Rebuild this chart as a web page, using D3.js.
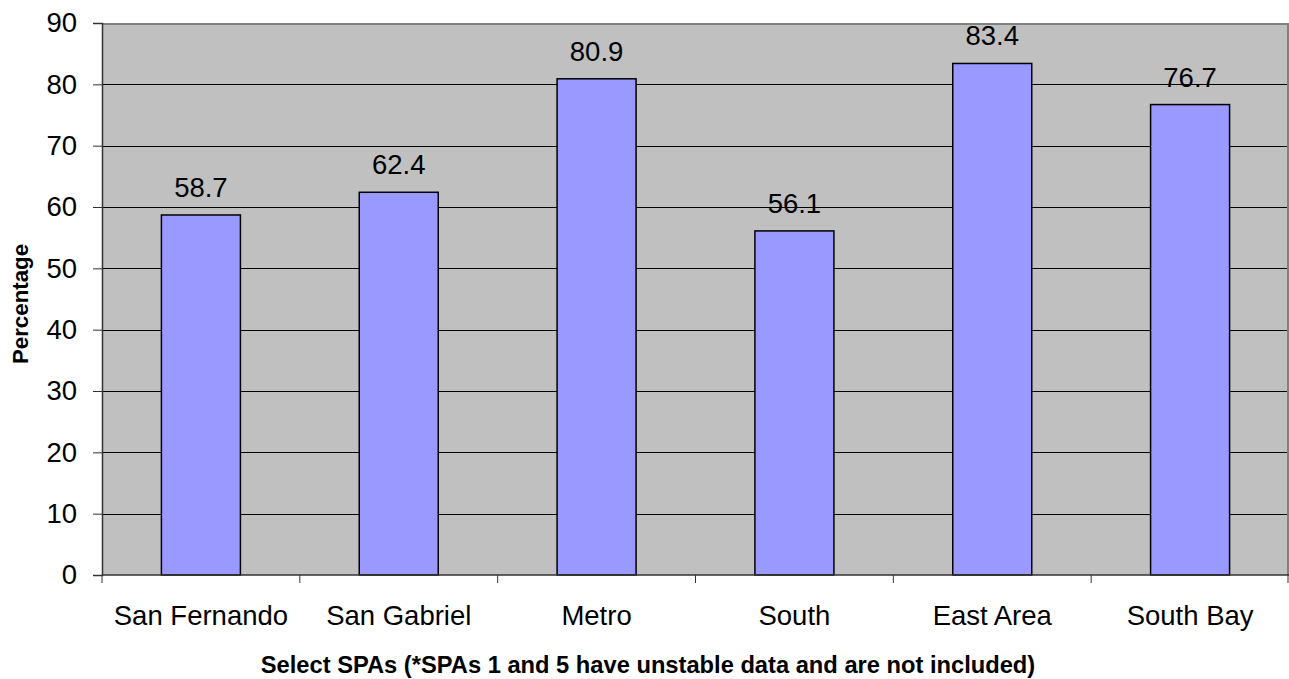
<!DOCTYPE html>
<html>
<head>
<meta charset="utf-8">
<script src="https://cdn.jsdelivr.net/npm/d3@7"></script>
<style>
  html, body { margin: 0; padding: 0; background: #ffffff; }
  svg { display: block; font-family: "Liberation Sans", Arial, sans-serif; }
</style>
</head>
<body>
<svg id="chart" width="1289" height="679"></svg>
<script>
// Service Planning Areas and their percentages
const categories = ["San Fernando", "San Gabriel", "Metro", "South", "East Area", "South Bay"];
const values = [58.7, 62.4, 80.9, 56.1, 83.4, 76.7];
const yTicks = [0, 10, 20, 30, 40, 50, 60, 70, 80, 90];
const xTitle = "Select SPAs (*SPAs 1 and 5 have unstable data and are not included)";
const yTitle = "Percentage";

const svg = d3.select("#chart");
const plot = { left: 102, right: 1289, top: 23, bottom: 575 };
const labelSize = 27.5;

const x = d3.scaleBand()
  .domain(categories)
  .range([plot.left, plot.right])
  .paddingInner(0)
  .paddingOuter(0);

const y = d3.scaleLinear()
  .domain([0, 90])
  .range([plot.bottom, plot.top]);

// plot background
svg.append("rect")
  .attr("x", plot.left).attr("y", plot.top)
  .attr("width", plot.right - plot.left).attr("height", plot.bottom - plot.top)
  .attr("fill", "#c0c0c0");

// horizontal gridlines
svg.append("g")
  .selectAll("line")
  .data(yTicks.filter(t => t > 0 && t < 90))
  .join("line")
  .attr("x1", plot.left).attr("x2", plot.right)
  .attr("y1", d => Math.round(y(d)) + 0.5).attr("y2", d => Math.round(y(d)) + 0.5)
  .attr("stroke", "#000").attr("stroke-width", 1);

// plot border (top and right)
svg.append("path")
  .attr("d", `M${plot.left},${plot.top + 1}H${plot.right - 1}V${plot.bottom}`)
  .attr("fill", "none").attr("stroke", "#808080").attr("stroke-width", 2);

// bars
const barW = 79;
svg.append("g")
  .selectAll("rect")
  .data(values)
  .join("rect")
  .attr("x", (d, i) => x(categories[i]) + x.bandwidth() / 2 - barW / 2)
  .attr("y", d => y(d))
  .attr("width", barW)
  .attr("height", d => y(0) - y(d))
  .attr("fill", "#9999ff")
  .attr("stroke", "#000")
  .attr("stroke-width", 1.5);

// value labels
svg.append("g")
  .selectAll("text")
  .data(values)
  .join("text")
  .attr("x", (d, i) => x(categories[i]) + x.bandwidth() / 2)
  .attr("y", d => y(d) - 18)
  .attr("text-anchor", "middle")
  .attr("font-size", labelSize)
  .attr("fill", "#000")
  .text(d => d.toFixed(1));

// y axis
const yAxis = d3.axisLeft(y).tickValues(yTicks).tickSize(9).tickPadding(16).tickFormat(d3.format("d"));
const gy = svg.append("g")
  .attr("transform", `translate(${plot.left},0)`)
  .call(yAxis);
gy.select(".domain").attr("stroke", "#333").attr("stroke-width", 1.5);
gy.selectAll(".tick line").attr("stroke", "#333");
gy.selectAll(".tick text")
  .attr("font-size", labelSize)
  .attr("font-family", "Liberation Sans, Arial, sans-serif")
  .attr("fill", "#000");

// x axis with ticks at band boundaries
const gx = svg.append("g")
  .attr("transform", `translate(0,${plot.bottom})`);
gx.append("line")
  .attr("x1", plot.left).attr("x2", plot.right)
  .attr("y1", 0).attr("y2", 0)
  .attr("stroke", "#333").attr("stroke-width", 1.5);
const bounds = categories.map(c => x(c)).concat([plot.right - 1]);
gx.selectAll("line.tick")
  .data(bounds)
  .join("line")
  .attr("class", "tick")
  .attr("x1", d => d).attr("x2", d => d)
  .attr("y1", 0).attr("y2", 8)
  .attr("stroke", "#333");
gx.selectAll("text")
  .data(categories)
  .join("text")
  .attr("x", d => x(d) + x.bandwidth() / 2)
  .attr("y", 50)
  .attr("text-anchor", "middle")
  .attr("font-size", labelSize)
  .attr("fill", "#000")
  .text(d => d);

// axis titles
svg.append("text")
  .attr("x", 648).attr("y", 673)
  .attr("text-anchor", "middle")
  .attr("font-size", 23.7)
  .attr("font-weight", "bold")
  .attr("fill", "#000")
  .text(xTitle);

svg.append("text")
  .attr("transform", `translate(28,304) rotate(-90)`)
  .attr("text-anchor", "middle")
  .attr("font-size", 22.3)
  .attr("font-weight", "bold")
  .attr("fill", "#000")
  .text(yTitle);
</script>
</body>
</html>
